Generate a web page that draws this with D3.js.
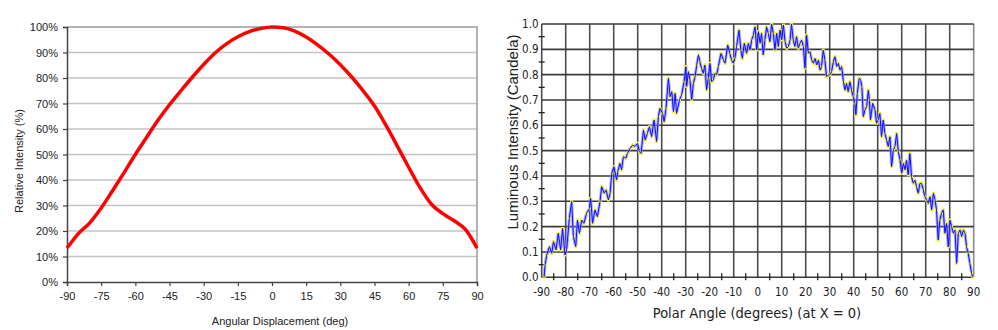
<!DOCTYPE html>
<html><head><meta charset="utf-8">
<script src="https://cdn.jsdelivr.net/npm/d3@7"></script>
<style>body{margin:0;background:#fff;} svg{display:block}</style>
</head><body><svg id="c" width="998" height="330"></svg>
<script>
// ---------- Left chart data ----------
const leftAngles = [-90,-85,-80,-75,-70,-65,-60,-55,-50,-45,-40,-35,-30,-25,-20,-15,-10,-5,0,5,10,15,20,25,30,35,40,45,50,55,60,65,70,75,80,85,90];
const leftIntensity = [13.3,19,23.2,29,35.8,42.8,50,56.8,63.5,69.5,75,80.3,85.3,89.8,93.4,96.2,98.2,99.4,100,99.7,98.4,96.1,93,89.4,85.2,80.4,75,69,61.5,53.3,45,37,30.5,26.8,24,20.5,13.3];
const leftYTicks = [0,10,20,30,40,50,60,70,80,90,100];
const leftXTicks = [-90,-75,-60,-45,-30,-15,0,15,30,45,60,75,90];

// ---------- Right chart data ----------
const polarAngles = [
-89.0,-88.6,-87.9,-86.8,-85.8,-85.1,-84.0,-83.1,-82.1,-81.3,-80.3,-79.6,-78.5,-77.5,-76.8,-75.8,-75.1,-74.3,-73.3,-72.4,
-71.3,-70.1,-69.6,-68.8,-67.8,-66.8,-65.7,-65.0,-64.0,-63.2,-62.2,-61.5,-60.8,-59.9,-58.8,-58.3,-57.4,-56.7,-56.0,-54.9,
-54.3,-53.2,-52.1,-51.1,-50.1,-49.3,-48.6,-47.6,-46.9,-46.0,-45.1,-44.2,-43.2,-42.1,-41.4,-40.7,-39.6,-39.0,-38.2,-37.2,
-36.5,-35.8,-35.1,-34.4,-33.8,-32.6,-31.7,-30.7,-29.9,-29.6,-28.9,-28.2,-27.5,-26.8,-26.1,-25.4,-24.7,-24.1,-23.4,-22.7,
-22.0,-21.3,-20.6,-19.9,-19.2,-18.5,-17.8,-17.1,-16.4,-15.3,-14.3,-13.6,-12.5,-11.6,-10.9,-10.2,-9.5,-8.8,-7.8,-7.0,
-6.4,-5.6,-4.6,-3.9,-3.2,-2.5,-1.8,-1.1,-0.4,0.3,1.0,1.6,2.3,3.0,3.7,4.4,5.1,5.8,6.5,7.2,
7.9,8.6,9.3,10.0,10.7,11.4,12.1,12.8,13.5,14.1,14.8,15.5,16.2,16.9,17.6,18.3,19.0,19.7,20.4,21.1,
21.8,22.5,23.2,23.9,24.6,25.3,26.0,26.6,27.3,28.0,28.7,29.4,30.1,30.8,31.5,32.2,32.9,33.6,34.3,35.0,
35.7,36.4,37.0,37.7,38.4,39.1,39.8,40.5,40.9,41.5,42.3,42.9,43.4,44.0,44.7,45.4,46.1,46.5,47.0,47.9,
48.9,49.5,50.2,50.9,51.6,52.3,53.0,53.7,54.4,55.1,55.8,56.5,57.2,57.9,58.6,59.3,60.0,60.7,61.4,62.0,
62.7,63.4,64.1,64.8,65.5,66.2,66.9,67.6,68.3,69.0,69.7,70.4,71.1,71.8,72.5,73.2,73.9,74.5,75.2,75.9,
76.6,77.3,78.0,78.7,79.4,80.1,80.8,81.5,82.2,82.9,83.6,84.3,85.0,85.7,86.4,87.0,87.7,88.4,89.1,89.7];
const luminous = [
0.000,0.049,0.088,0.121,0.095,0.141,0.108,0.174,0.108,0.193,0.088,0.108,0.233,0.299,0.161,0.121,0.226,0.174,0.226,0.213,
0.253,0.272,0.312,0.213,0.266,0.239,0.299,0.358,0.332,0.345,0.305,0.332,0.411,0.437,0.384,0.417,0.450,0.424,0.476,0.470,
0.489,0.509,0.522,0.516,0.529,0.496,0.489,0.582,0.542,0.568,0.595,0.555,0.621,0.536,0.634,0.667,0.647,0.614,0.667,0.786,
0.713,0.733,0.654,0.726,0.647,0.700,0.720,0.772,0.832,0.753,0.812,0.779,0.700,0.766,0.792,0.838,0.878,0.851,0.825,0.805,
0.838,0.739,0.786,0.845,0.772,0.779,0.805,0.799,0.832,0.884,0.858,0.845,0.917,0.884,0.858,0.845,0.864,0.911,0.976,0.897,
0.864,0.924,0.884,0.924,0.897,0.937,0.957,0.989,0.897,0.970,0.924,0.963,0.878,0.937,0.989,0.963,0.930,1.000,0.963,0.897,
0.963,0.911,0.976,0.937,0.996,0.930,0.904,0.911,0.937,1.000,0.937,0.911,0.950,0.904,0.924,0.937,0.911,0.825,0.957,0.884,
0.891,0.858,0.845,0.864,0.838,0.858,0.818,0.832,0.897,0.858,0.792,0.799,0.799,0.812,0.851,0.871,0.832,0.845,0.818,0.832,
0.772,0.739,0.766,0.733,0.772,0.739,0.713,0.687,0.641,0.726,0.786,0.779,0.753,0.634,0.661,0.674,0.739,0.700,0.621,0.687,
0.661,0.608,0.621,0.647,0.555,0.621,0.568,0.542,0.516,0.555,0.437,0.503,0.516,0.568,0.496,0.463,0.411,0.450,0.424,0.463,
0.404,0.489,0.397,0.371,0.384,0.358,0.332,0.371,0.371,0.345,0.318,0.305,0.292,0.318,0.266,0.332,0.305,0.266,0.147,0.226,
0.253,0.266,0.174,0.213,0.120,0.226,0.200,0.174,0.187,0.055,0.174,0.187,0.161,0.187,0.174,0.121,0.095,0.055,0.016,0.000];
const rightXTicks = [-90,-80,-70,-60,-50,-40,-30,-20,-10,0,10,20,30,40,50,60,70,80,90];
const rightMinorX = [-85,-75,-65,-55,-45,-35,-25,-15,-5,5,15,25,35,45,55,65,75,85];
const rightYTicks = [0,0.1,0.2,0.3,0.4,0.5,0.6,0.7,0.8,0.9,1.0];
const rightMinorY = [0.05,0.15,0.25,0.35,0.45,0.55,0.65,0.75,0.85,0.95];

const svg = d3.select('#c');

// ================= LEFT CHART =================
const L = {x0:67, x1:477, y0:27, y1:282};
const lx = d3.scaleLinear().domain([-90,90]).range([L.x0,L.x1]);
const ly = d3.scaleLinear().domain([0,100]).range([L.y1,L.y0]);
const gl = svg.append('g');

gl.selectAll('line.grid').data(leftYTicks.filter(d=>d>0 && d<100)).enter().append('line')
  .attr('x1',L.x0).attr('x2',L.x1).attr('y1',d=>ly(d)).attr('y2',d=>ly(d))
  .attr('stroke','#c4c4c4').attr('stroke-width',1.5);
gl.append('path').attr('d',`M${L.x0},${ly(100)}H${L.x1}V${L.y1}`)
  .attr('fill','none').attr('stroke','#9a9a9a').attr('stroke-width',1.5);

const lyAxis = d3.axisLeft(ly).tickValues(leftYTicks).tickFormat(d=>d+'%').tickSize(4).tickPadding(5);
const lxAxis = d3.axisBottom(lx).tickValues(leftXTicks).tickFormat(d=>d).tickSize(4).tickPadding(6);
const gly = gl.append('g').attr('transform',`translate(${L.x0},0)`).call(lyAxis);
const glx = gl.append('g').attr('transform',`translate(0,${L.y1})`).call(lxAxis);
[gly,glx].forEach(g=>{
  g.select('.domain').attr('stroke','#444').attr('stroke-width',1.5);
  g.selectAll('.tick line').attr('stroke','#444').attr('stroke-width',1.2);
  g.selectAll('text').attr('font-family','Arial, "Liberation Sans", sans-serif').attr('font-size',11).attr('fill','#222');
});

gl.append('path').datum(leftAngles.map((a,i)=>[a,leftIntensity[i]]))
  .attr('d',d3.line().x(d=>lx(d[0])).y(d=>ly(d[1])).curve(d3.curveMonotoneX))
  .attr('fill','none').attr('stroke','#ff0000').attr('stroke-width',3.5).attr('stroke-linejoin','round');

gl.append('text').attr('x',280).attr('y',325).attr('text-anchor','middle')
  .attr('font-family','Arial, "Liberation Sans", sans-serif').attr('font-size',11).attr('fill','#222')
  .text('Angular Displacement (deg)');
gl.append('text').attr('transform','translate(23,161) rotate(-90)').attr('text-anchor','middle')
  .attr('font-family','Arial, "Liberation Sans", sans-serif').attr('font-size',11).attr('fill','#222')
  .text('Relative Intensity (%)');

// ================= RIGHT CHART =================
const R = {x0:541.7, x1:973.7, y0:24, y1:277.3};
const rx = d3.scaleLinear().domain([-90,90]).range([R.x0,R.x1]);
const ry = d3.scaleLinear().domain([0,1]).range([R.y1,R.y0]);
const gr = svg.append('g');
const narrow = '"Liberation Sans Narrow", "Arial Narrow", "DejaVu Sans Condensed", sans-serif';

gr.selectAll('line.vg').data(rightXTicks).enter().append('line')
  .attr('x1',d=>rx(d)).attr('x2',d=>rx(d)).attr('y1',R.y0).attr('y2',R.y1)
  .attr('stroke',d=>d===90?'#8a8a8a':'#4a4a4a').attr('stroke-width',1.6);
gr.selectAll('line.hg').data(rightYTicks).enter().append('line')
  .attr('x1',R.x0).attr('x2',R.x1).attr('y1',d=>ry(d)).attr('y2',d=>ry(d))
  .attr('stroke','#3a3a3a').attr('stroke-width',1.6);
gr.selectAll('line.mx').data(rightMinorX).enter().append('line')
  .attr('x1',d=>rx(d)).attr('x2',d=>rx(d)).attr('y1',R.y1-4).attr('y2',R.y1+3)
  .attr('stroke','#222').attr('stroke-width',1.3);
gr.selectAll('line.my').data(rightMinorY).enter().append('line')
  .attr('x1',R.x0-3).attr('x2',R.x0+3).attr('y1',d=>ry(d)).attr('y2',d=>ry(d))
  .attr('stroke','#222').attr('stroke-width',1.3);

gr.selectAll('text.xl').data(rightXTicks).enter().append('text')
  .attr('x',d=>rx(d)).attr('y',296).attr('text-anchor','middle')
  .attr('font-family',narrow).attr('font-size',11.5).attr('fill','#222').text(d=>d);
gr.selectAll('text.yl').data(rightYTicks).enter().append('text')
  .attr('x',538.5).attr('y',d=>ry(d)+4).attr('text-anchor','end')
  .attr('font-family',narrow).attr('font-size',11.5).attr('fill','#222').text(d=>d.toFixed(1));

const pts = polarAngles.map((a,i)=>[a,luminous[i]]);
const line = d3.line().x(d=>rx(d[0])).y(d=>ry(d[1]));
gr.append('path').datum(pts).attr('d',line).attr('fill','none')
  .attr('stroke','#8c8cff').attr('stroke-width',3).attr('stroke-opacity',0.7).attr('stroke-linejoin','round');
gr.selectAll('rect.yd').data(pts).enter().append('rect')
  .attr('x',d=>rx(d[0])-1.4).attr('y',d=>ry(d[1])-1.4).attr('width',2.8).attr('height',2.8)
  .attr('fill','#ffff00');
gr.append('path').datum(pts).attr('d',line).attr('fill','none')
  .attr('stroke','#1010ff').attr('stroke-width',1).attr('stroke-linejoin','round');

gr.append('text').attr('x',757).attr('y',318).attr('text-anchor','middle')
  .attr('font-family',narrow).attr('font-size',14.5).attr('fill','#222')
  .text('Polar Angle (degrees) (at X = 0)');
gr.append('text').attr('transform','translate(518,132) rotate(-90)').attr('text-anchor','middle')
  .attr('font-family','Arial, "Liberation Sans", sans-serif').attr('font-size',15).attr('fill','#222')
  .text('Luminous Intensity (Candela)');
</script></body></html>
